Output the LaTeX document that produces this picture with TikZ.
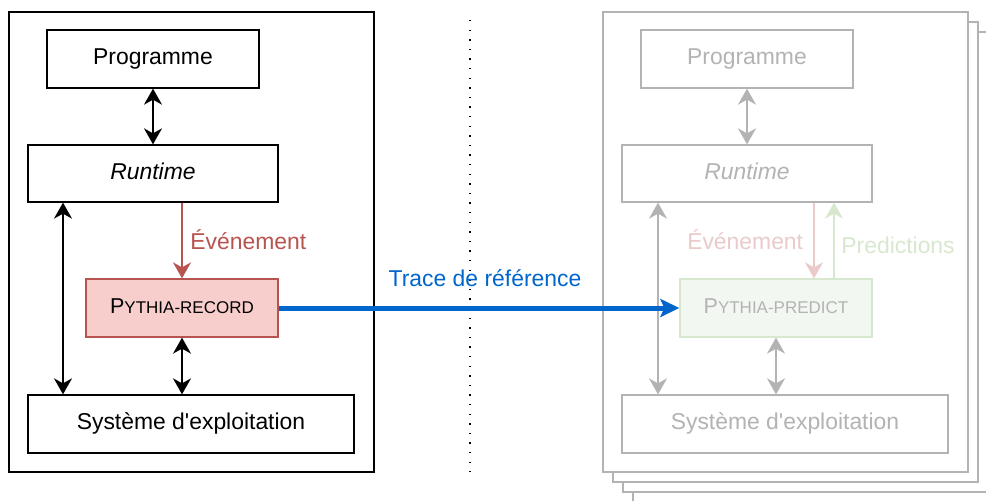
\documentclass[tikz,border=0pt]{standalone}
\usepackage{fontspec}
\setmainfont{Liberation Sans}[Ligatures=TeXOff]
\usetikzlibrary{arrows.meta}

\definecolor{recfill}{HTML}{F8CECC}
\definecolor{recline}{HTML}{B85450}
\definecolor{fadegray}{HTML}{B3B3B3}
\definecolor{fadered}{HTML}{EACBCA}
\definecolor{fadegreen}{HTML}{D8E8CF}
\definecolor{predfill}{HTML}{F2F8F1}
\definecolor{traceblue}{HTML}{0066CC}

% tool name set in (synthetic) small capitals
\newcommand\toolname[2]{{\fontsize{10.75pt}{12pt}\selectfont #1{\fontsize{8.5pt}{9pt}\selectfont #2}}}

\tikzset{
  headtip/.tip={Stealth[length=8pt,width=9pt,inset=2.5pt]},
  tracetip/.tip={Stealth[length=9.5pt,width=9pt,inset=2pt]},
}

\begin{document}
\begin{tikzpicture}[x=0.5pt,y=-0.5pt,
  font=\fontsize{11.45pt}{13.5pt}\selectfont,
  box/.style={draw, line width=0.65pt, inner sep=0pt,
    text height=0.74em, text depth=0.19em},
  frame/.style={draw, line width=0.65pt, fill=white, inner sep=0pt,
    minimum width=182.5pt, minimum height=230pt},
  label/.style={inner sep=0pt, anchor=base west},
  biarrow/.style={line width=0.75pt, headtip-headtip},
  onearrow/.style={line width=0.75pt, -headtip},
]
\clip (0,0) rectangle (986,500);
\fill[white] (0,0) rectangle (986,500);

% columns of the long runtime <-> OS arrows
\coordinate (colL) at (63,0);
\coordinate (colR) at (658,0);

% ---------- recording side ----------
\node[frame] (frameL) at (191.5,242) {};
\node[box, minimum width=106pt, minimum height=29pt] (progL) at (153,59) {Programme};
\node[box, minimum width=125pt, minimum height=28.5pt] (runL) at (153,173.5) {\itshape Runtime};
\node[box, fill=recfill, draw=recline, minimum width=96pt, minimum height=29pt]
  (recL) at (182,308) {\toolname{P}{YTHIA-RECORD}};
\node[box, minimum width=163pt, minimum height=29pt] (osL) at (191,424) {Système d'exploitation};

\draw[biarrow] (progL) -- (runL);
\draw[biarrow] (runL.south -| colL) -- (osL.north -| colL);
\draw[biarrow] (recL.south) -- (recL.south |- osL.north);
\draw[onearrow, recline] (recL.north |- runL.south) -- (recL.north);
\node[label, text=recline] (evtL) at (190,249.3) {Événement};

% ---------- separator ----------
\coordinate (sepTop) at (470,20);
\coordinate (sepBot) at (470,472);
\draw[line width=0.65pt, dash pattern=on 0.65pt off 4.15pt] (sepTop) -- (sepBot);

% ---------- prediction side (stack of runs) ----------
\node[frame, draw=fadegray] (frameD) at (815.5,273) {};
\node[frame, draw=fadegray] (frameC) at (805.5,262) {};
\node[frame, draw=fadegray] (frameB) at (795.5,252) {};
\node[frame, draw=fadegray] (frameA) at (785.5,242) {};

\node[box, draw=fadegray, text=fadegray, minimum width=106pt, minimum height=29pt]
  (progR) at (747,59) {Programme};
\node[box, draw=fadegray, text=fadegray, minimum width=125pt, minimum height=28.5pt]
  (runR) at (747,173.5) {\itshape Runtime};
\node[box, fill=predfill, draw=fadegreen, text=fadegray, minimum width=96pt, minimum height=29pt]
  (predR) at (776,308) {\toolname{P}{YTHIA-PREDICT}};
\node[box, draw=fadegray, text=fadegray, minimum width=163pt, minimum height=29pt]
  (osR) at (785,424) {Système d'exploitation};

\draw[biarrow, fadegray] (progR) -- (runR);
\draw[biarrow, fadegray] (runR.south -| colR) -- (osR.north -| colR);
\draw[biarrow, fadegray] (predR.south) -- (predR.south |- osR.north);
\draw[onearrow, fadered] ([xshift=19pt]predR.north |- runR.south) -- ([xshift=19pt]predR.north);
\draw[onearrow, fadegreen] ([xshift=29pt]predR.north) -- ([xshift=29pt]predR.north |- runR.south);
\node[label, anchor=base east, text=fadered] (evtR) at (803.5,249) {Événement};
\node[label, text=fadegreen] (predLbl) at (841,253) {Predictions};

% ---------- reference trace ----------
\draw[line width=2.5pt, traceblue, -tracetip] (recL.east) -- (predR.west);
\node[label, anchor=base, text=traceblue] (traceLbl) at (485,286.7) {Trace de référence};
\end{tikzpicture}
\end{document}
